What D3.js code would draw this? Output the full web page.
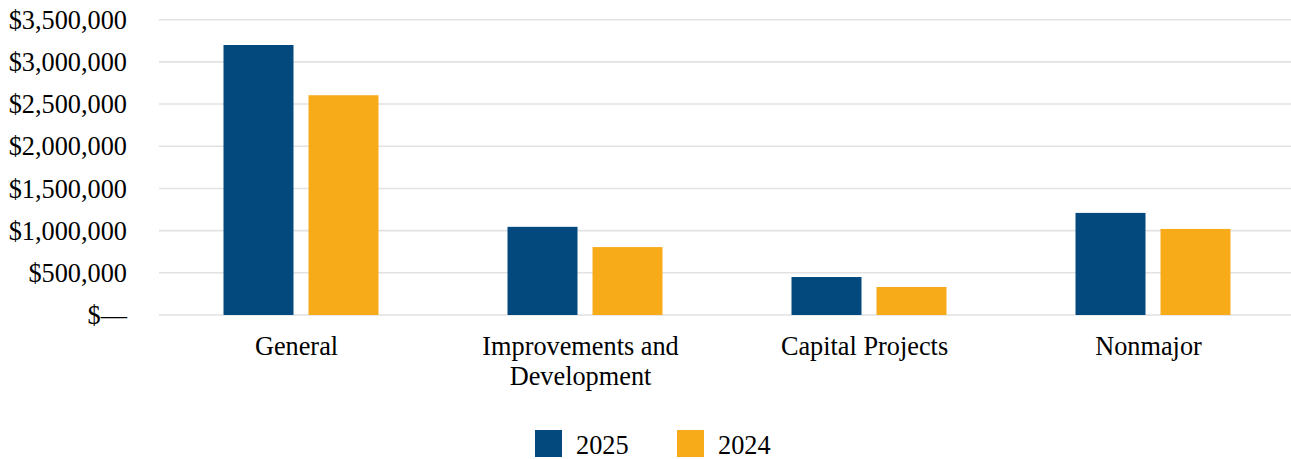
<!DOCTYPE html>
<html>
<head>
<meta charset="utf-8">
<script src="https://cdn.jsdelivr.net/npm/d3@7"></script>
<style>
  body { margin: 0; background: #fff; }
  svg text { font-family: "Liberation Serif", "Times New Roman", serif; fill: #000; }
</style>
</head>
<body>
<svg id="chart" width="1291" height="459"></svg>
<script>
// data
const categories = [["General"], ["Improvements and", "Development"], ["Capital Projects"], ["Nonmajor"]];
const series = ["2025", "2024"];
const values2025 = [3200000, 1045000, 450000, 1210000];
const values2024 = [2605000, 805000, 332000, 1020000];
const yTicks = [0, 500000, 1000000, 1500000, 2000000, 2500000, 3000000, 3500000];
const colors = ["#03497e", "#f8ab18"];

const svg = d3.select("#chart");
const plotLeft = 159, plotRight = 1295, plotTop = 19.7, plotBottom = 315;
const fontSize = "26.3px";

const catKeys = categories.map(c => c.join(" "));
const x0 = d3.scaleBand().domain(catKeys).range([plotLeft, plotRight]).padding(0);
const groupW = 155;
const x1 = d3.scaleBand().domain(series).range([0, groupW]).paddingInner(15 / 85).paddingOuter(0);
const y = d3.scaleLinear().domain([0, 3500000]).range([plotBottom, plotTop]);

const fmt = d => d === 0 ? "$\u2014" : "$" + d3.format(",")(d);

// gridlines
svg.append("g")
  .selectAll("line")
  .data(yTicks)
  .join("line")
  .attr("x1", plotLeft)
  .attr("x2", 1291)
  .attr("y1", d => y(d))
  .attr("y2", d => y(d))
  .attr("stroke", "#e2e2e2")
  .attr("stroke-width", 1.6);

// y labels
svg.append("g")
  .selectAll("text")
  .data(yTicks)
  .join("text")
  .attr("x", 127)
  .attr("y", d => y(d))
  .attr("dy", "0.35em")
  .attr("text-anchor", "end")
  .style("font-size", fontSize)
  .text(fmt);

// bars
const rows = catKeys.map((k, i) => ({ key: k, vals: [values2025[i], values2024[i]] }));
const groups = svg.append("g")
  .selectAll("g")
  .data(rows)
  .join("g")
  .attr("transform", d => `translate(${x0(d.key) + (x0.bandwidth() - groupW) / 2},0)`);

groups.selectAll("rect")
  .data(d => d.vals.map((v, j) => ({ s: series[j], v, j })))
  .join("rect")
  .attr("x", d => x1(d.s))
  .attr("width", x1.bandwidth())
  .attr("y", d => y(d.v))
  .attr("height", d => y(0) - y(d.v))
  .attr("fill", d => colors[d.j]);

// category labels (sit a little left of the band centre)
const catLabels = svg.append("g")
  .selectAll("text")
  .data(categories)
  .join("text")
  .attr("text-anchor", "middle")
  .attr("transform", (d, i) => `translate(${x0(catKeys[i]) + x0.bandwidth() / 2 - 4.5},355)`)
  .style("font-size", fontSize);

catLabels.selectAll("tspan")
  .data(d => d)
  .join("tspan")
  .attr("x", 0)
  .attr("y", (d, i) => i * 30)
  .text(d => d);

// legend
const legend = svg.append("g")
  .selectAll("g")
  .data(series)
  .join("g")
  .attr("transform", (d, i) => `translate(${535 + i * 142},430)`);

legend.append("rect")
  .attr("width", 27)
  .attr("height", 27)
  .attr("fill", (d, i) => colors[i]);

legend.append("text")
  .attr("x", 41)
  .attr("y", 23.5)
  .style("font-size", fontSize)
  .text(d => d);
</script>
</body>
</html>
